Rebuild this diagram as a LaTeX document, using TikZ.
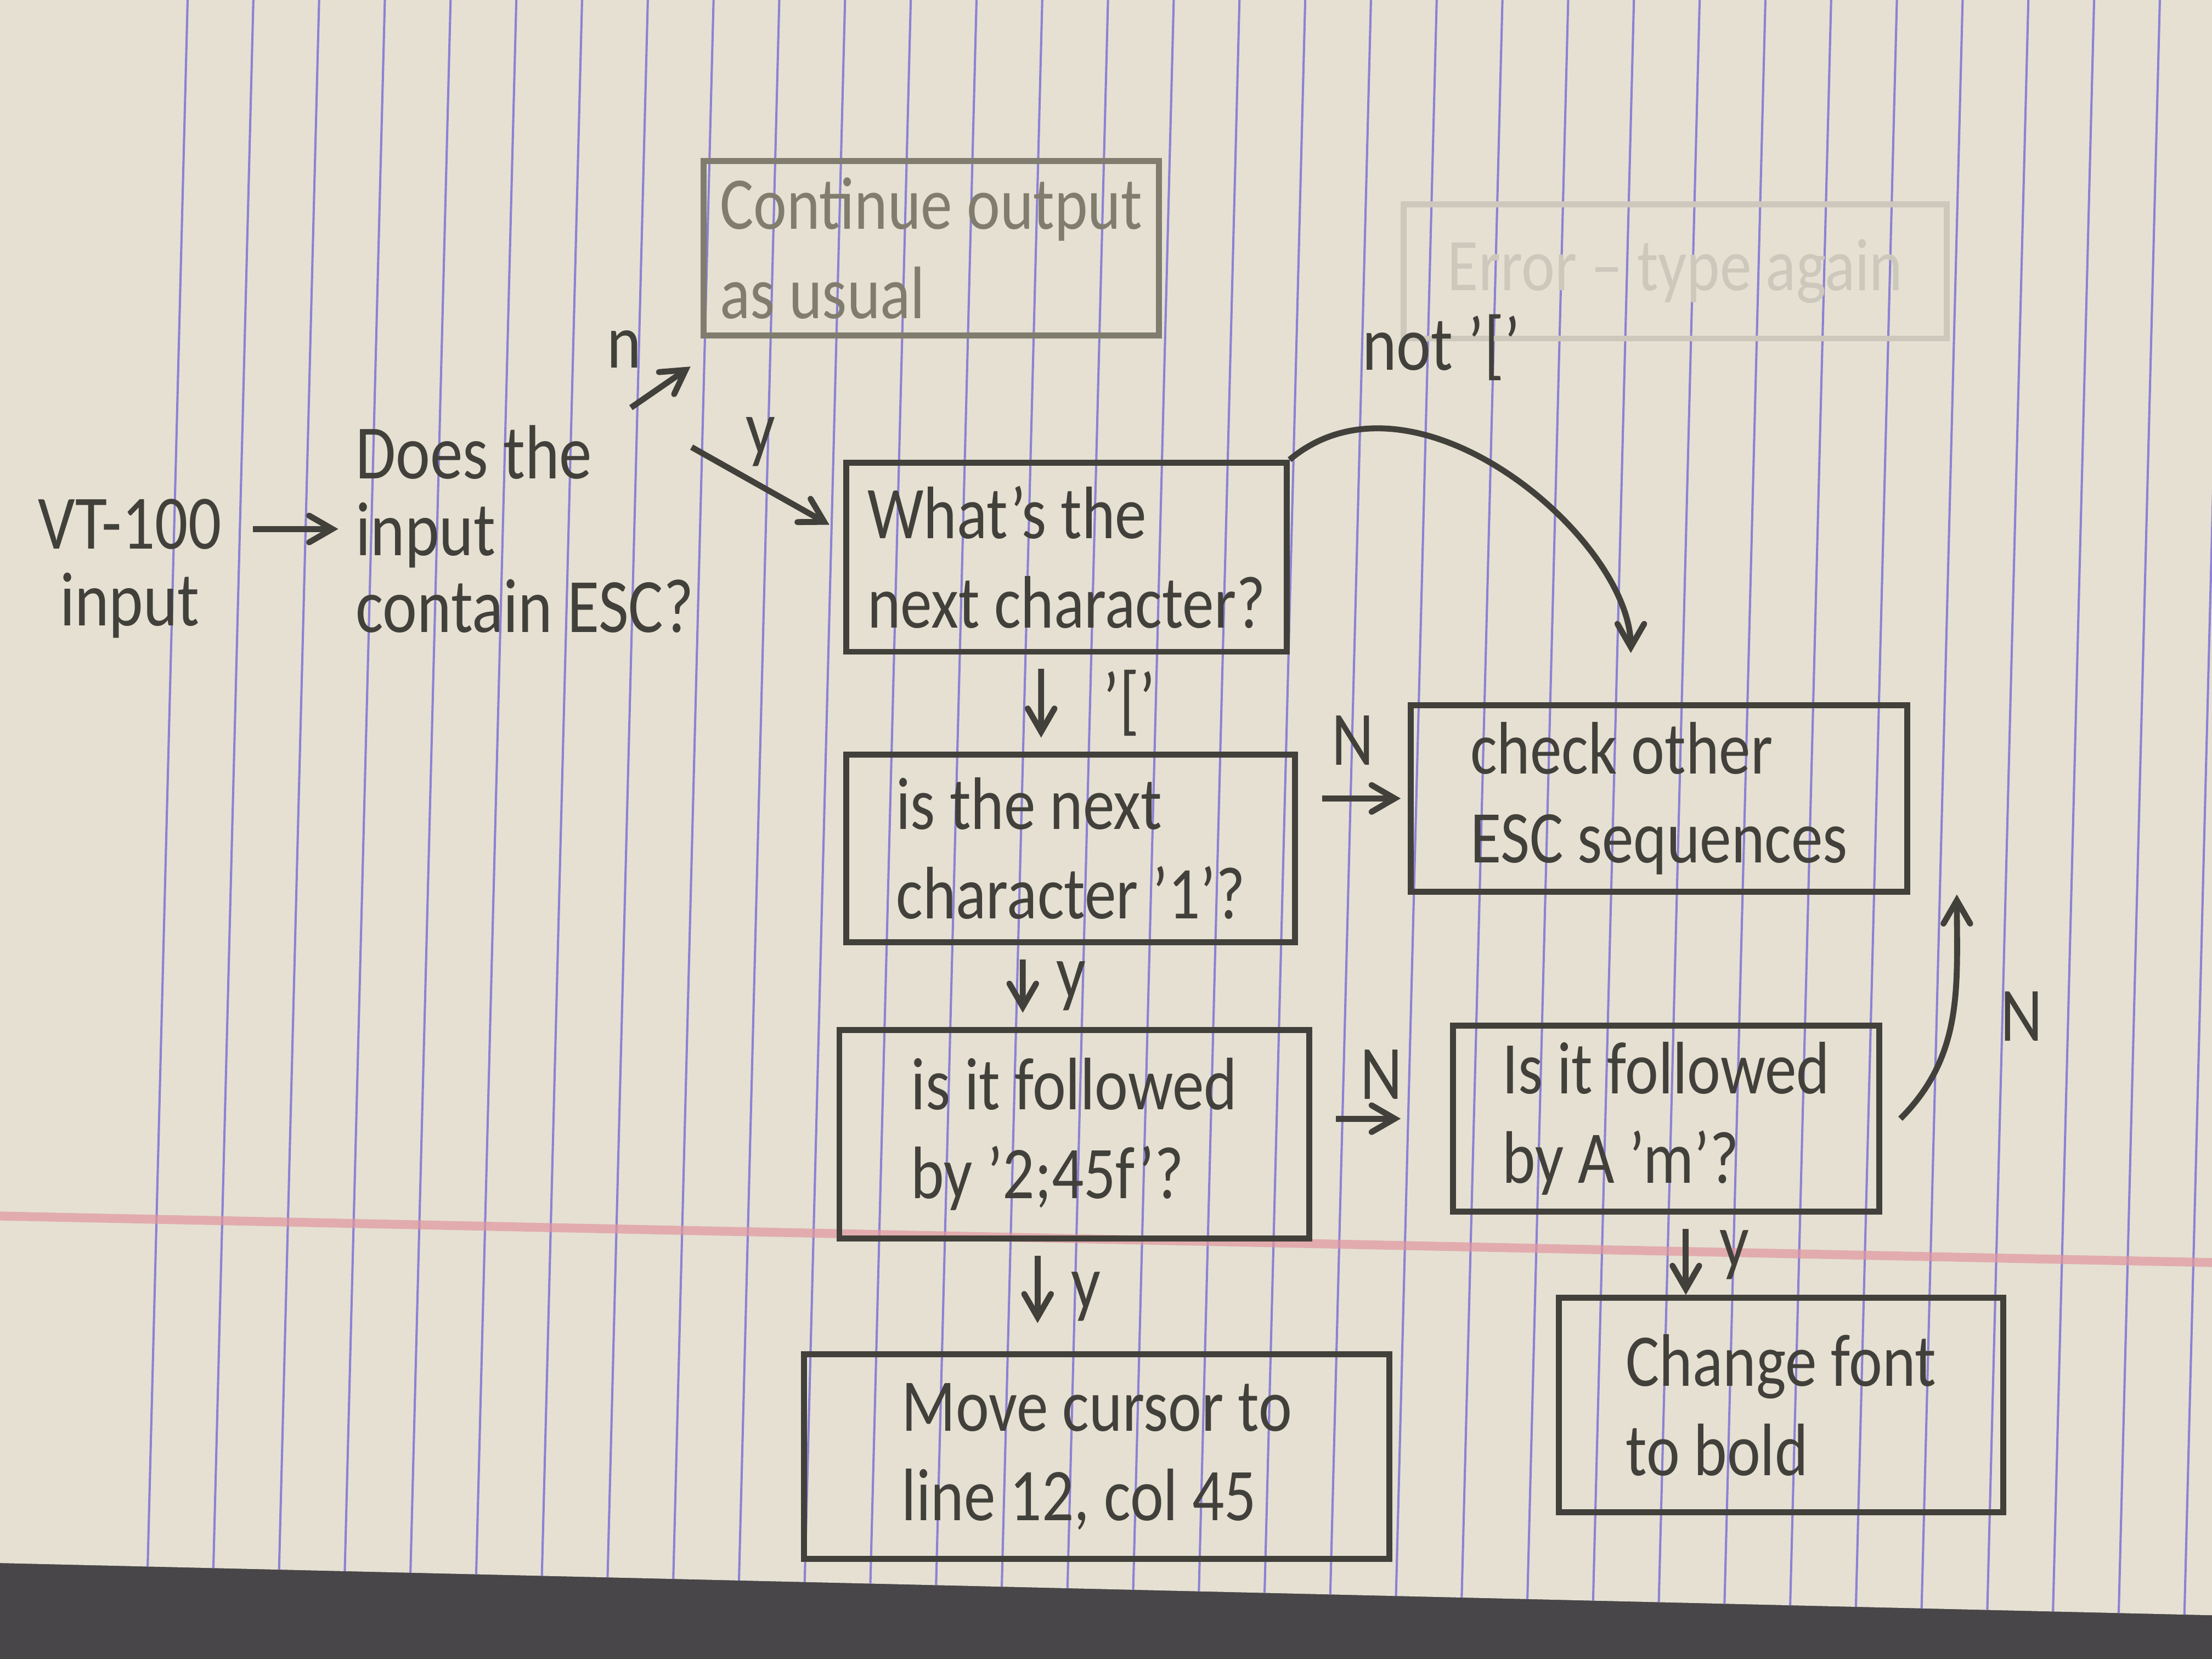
\documentclass[tikz,border=0pt]{standalone}
\usepackage{fontspec}
\setmainfont[FakeStretch=0.85]{Carlito}
\usetikzlibrary{arrows}
\definecolor{pencil}{RGB}{66,64,58}
\definecolor{faded}{RGB}{128,125,110}
\definecolor{erased}{RGB}{205,200,188}
\definecolor{paper}{RGB}{229,224,210}
\definecolor{rule}{RGB}{140,130,212}
\definecolor{margin}{RGB}{226,150,160}
\definecolor{desk}{RGB}{72,70,72}
\tikzset{box/.style = {shape = rectangle, draw = pencil, text = pencil, line width = 1.2pt, align = left, font = \fontsize{15}{18}\selectfont}}
\tikzset{note/.style = {text = pencil, align = left, font = \fontsize{15.5}{15.5}\selectfont}}
\tikzset{edge/.style = {->, > = angle 60, draw = pencil, line width = 1.2pt}}

\begin{document}
\begin{tikzpicture}
  \useasboundingbox (0,0) rectangle (15.68,11.76);
  % paper on the desk
  \fill[desk] (0,0) rectangle (15.68,11.76);
  \fill[paper] (0,0.68) -- (15.68,0.31) -- (15.68,11.76) -- (0,11.76) -- cycle;
  \begin{scope}
    \clip (0,0.68) -- (15.68,0.31) -- (15.68,11.76) -- (0,11.76) -- cycle;
    \foreach \i in {0,...,31}
      \draw[rule, line width=0.45pt] (1.23+0.466*\i+0.1,11.76) -- (1.23+0.466*\i-0.2,0);
    \draw[margin, line width=1.8pt, opacity=0.7] (0,3.14) -- (15.68,2.81);
  \end{scope}

  \node[note, align=center] (vt) at (0.92, 7.73) {VT-100\\input};
  \node[note] (does) at (3.72, 8.01) {Does the\\input\\contain ESC?};
  \node[box, draw=faded, text=faded, minimum width=3.1cm, minimum height=1.03cm] (cont) at (6.60, 10.00) {Continue output\\as usual};
  \node[box, draw=erased, text=erased, minimum width=3.85cm, minimum height=0.95cm] (err) at (11.875, 9.835) {Error -- type again};
  \node[box, minimum width=3.12cm, minimum height=1.34cm] (what) at (7.56, 7.81) {What's the\\next character?};
  \node[box, minimum width=3.18cm, minimum height=1.33cm] (brack) at (7.59, 5.745) {is the next\\character '1'?};
  \node[box, minimum width=3.52cm, minimum height=1.32cm] (check) at (11.76, 6.10) {check other\\ESC sequences};
  \node[box, minimum width=3.33cm, minimum height=1.48cm] (foll) at (7.615, 3.72) {is it followed\\by '2;45f'?};
  \node[box, minimum width=3.02cm, minimum height=1.30cm] (folm) at (11.81, 3.83) {Is it followed\\by A 'm'?};
  \node[box, minimum width=4.15cm, minimum height=1.45cm] (move) at (7.775, 1.435) {Move cursor to\\line 12, col 45};
  \node[box, minimum width=3.15cm, minimum height=1.52cm] (bold) at (12.625, 1.80) {Change font\\to bold};

  \draw[edge, shorten <=1mm] (vt.east |- does.west) -- (does.west);
  \draw[edge] ([xshift=-5.7mm]does.north east) -- ([shift={(-0.7mm,-2mm)}]cont.south west) node[note, midway, above left] {n};
  \draw[edge] ([shift={(-1.4mm,-2.8mm)}]does.north east) -- ([shift={(-1mm,2.3mm)}]what.west) node[note, midway, above] {y};
  \draw[edge, shorten <=1mm, shorten >=1mm] ([xshift=-1.8mm]what.south) -- ([xshift=-2.1mm]brack.north) node[note, midway, right=3mm] {'['};
  \draw[edge, shorten >=3.5mm] (what.north east) to[out=40, in=90] node[note, pos=.35, above=3mm] {not '['} ([xshift=-2mm]check.north);
  \draw[edge, shorten <=1.7mm, shorten >=0.5mm] (brack.east |- check.west) -- (check.west) node[note, midway, above=1mm] {N};
  \draw[edge, shorten <=1mm, shorten >=1mm] ([xshift=-3.4mm]brack.south) -- ([xshift=-3.65mm]foll.north) node[note, midway, right=1mm] {y};
  \draw[edge, shorten <=1.7mm, shorten >=3.5mm] (foll.east |- folm.west) -- (folm.west) node[note, midway, above] {N};
  \draw[edge] ([xshift=1.3mm]folm.east) to[out=45, in=-90] node[note, pos=.5, right=2mm] {N} ([xshift=3.3mm]check.south east);
  \draw[edge, shorten <=1mm, shorten >=2mm] ([xshift=-2.6mm]foll.south) -- ([xshift=-2.6mm]foll.south |- move.north) node[note, midway, right=1mm] {y};
  \draw[edge, shorten <=1mm] ([xshift=1.4mm]folm.south) -- ([xshift=1.4mm]folm.south |- bold.north) node[note, midway, right=1mm] {y};
\end{tikzpicture}
\end{document}
